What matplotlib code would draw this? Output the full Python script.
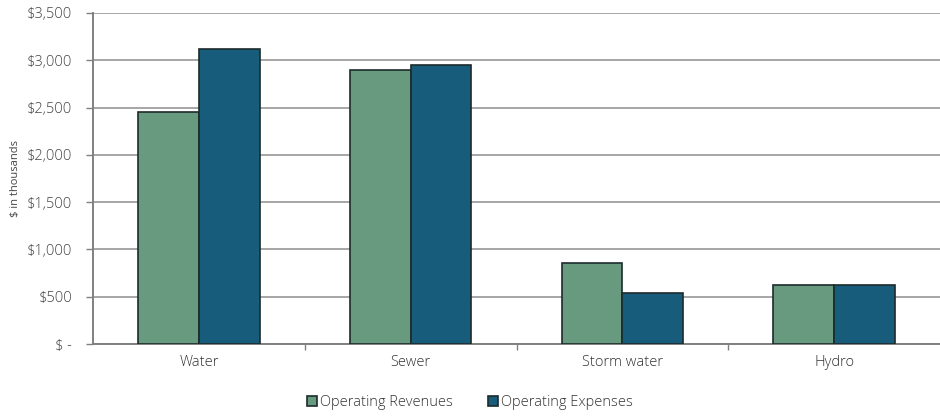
import matplotlib
matplotlib.use("Agg")
import matplotlib.pyplot as plt
import numpy as np
from matplotlib.ticker import FuncFormatter, FixedLocator

categories = ["Water", "Sewer", "Storm water", "Hydro"]
revenues = [2450, 2900, 855, 620]
expenses = [3120, 2950, 540, 620]
series_names = ["Operating Revenues", "Operating Expenses"]
colors = ["#689a7f", "#175c7a"]

plt.rcParams['font.family'] = ['Open Sans', 'DejaVu Sans']
plt.rcParams['font.weight'] = 'light'
fig = plt.figure(figsize=(9.4, 4.16), dpi=100)
ax = fig.add_axes([0.099, 0.173, 0.901, 0.796])

x = np.arange(len(categories))
w = 0.287
ax.bar(x - w/2, revenues, w, color=colors[0], edgecolor="#1c2b2b", linewidth=1.2,
       label=series_names[0], zorder=3)
ax.bar(x + w/2, expenses, w, color=colors[1], edgecolor="#1c2b2b", linewidth=1.2,
       label=series_names[1], zorder=3)

ax.set_xlim(-0.5, len(categories) - 0.5)
ax.set_ylim(0, 3500)
ax.set_yticks(np.arange(0, 3501, 500))

def fmt(v, pos):
    if v == 0:
        return "$ -"
    return "${:,.0f}".format(v)
ax.yaxis.set_major_formatter(FuncFormatter(fmt))
ax.grid(axis='y', color="#a6a6a6", linewidth=1.4, zorder=0)

ax.set_xticks(x)
ax.set_xticklabels(categories)
ax.xaxis.set_minor_locator(FixedLocator(np.arange(0.5, len(categories) - 0.5, 1.0)))
ax.tick_params(axis='x', which='major', length=0, pad=8, labelsize=10.5, labelcolor="#333333")
ax.tick_params(axis='x', which='minor', length=4, color="#808080", width=1)
ax.tick_params(axis='y', length=5, color="#808080", width=1, labelsize=10.5, labelcolor="#444444", pad=10)

for s in ["top", "right"]:
    ax.spines[s].set_visible(False)
ax.spines["left"].set_color("#808080")
ax.spines["left"].set_linewidth(1.4)
ax.spines["bottom"].set_color("#808080")
ax.spines["bottom"].set_linewidth(1.4)

ax.set_ylabel("$ in thousands", fontsize=8, color="#444444", labelpad=4)

leg = fig.legend(loc="center", bbox_to_anchor=(0.5, 0.032), ncol=2, frameon=False,
                 fontsize=10.5, handlelength=0.7, handleheight=0.7, handletextpad=0.2,
                 columnspacing=2.4, labelcolor="#333333")
fig.savefig("out.png", dpi=100)
